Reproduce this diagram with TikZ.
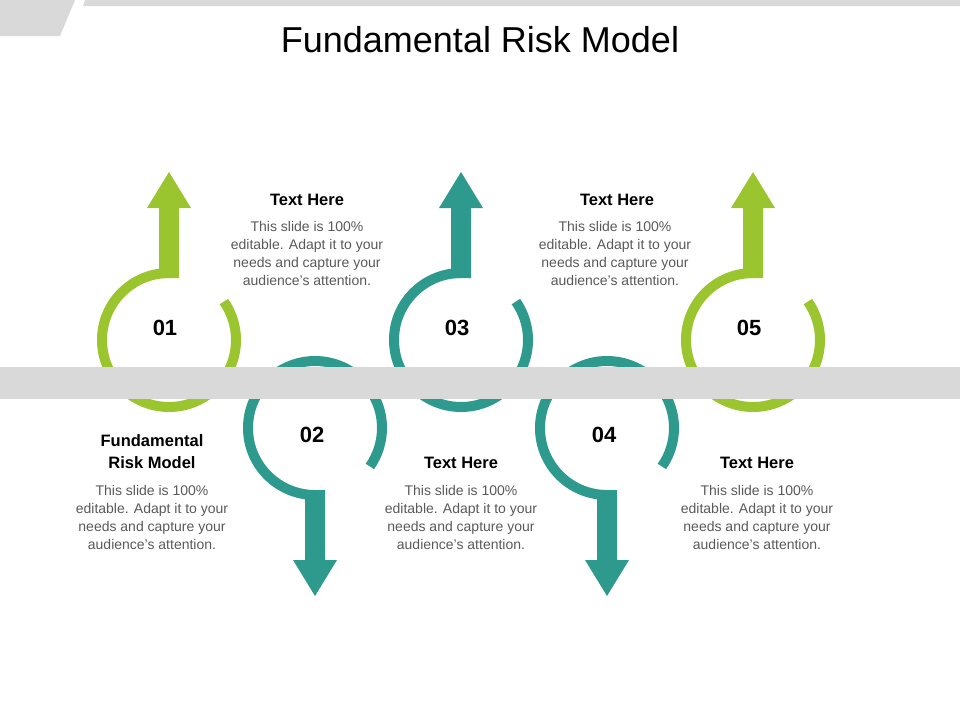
\documentclass[tikz,border=0pt]{standalone}
\usepackage{fontspec}
\setmainfont{Liberation Sans}
\definecolor{grn}{HTML}{9BC52E}
\definecolor{tl}{HTML}{2E9A8E}
\definecolor{band}{HTML}{D9D9D9}
\definecolor{txt}{HTML}{595959}
\begin{document}
\begin{tikzpicture}[x=1pt,y=-1pt,
  ring/.style={line width=10pt},
  num/.style={font=\bfseries\fontsize{22}{24}\selectfont},
  head/.style={font=\bfseries\fontsize{16.5}{18}\selectfont,align=center},
  body/.style={font=\fontsize{14}{18}\selectfont,text=txt,align=center}]
\useasboundingbox (0,0) rectangle (960,720);
\fill[band] (0,0) -- (75,0) -- (60,36) -- (0,36) -- cycle;
\fill[band] (85,0) -- (960,0) -- (960,6) -- (83,6) -- cycle;
\node[font=\fontsize{36}{40}\selectfont] (title) at (480,40) {Fundamental Risk Model};
% up rings
\foreach \cx/\c/\n in {169/grn/01,461/tl/03,753/grn/05}{
  \draw[ring,\c] (\cx,273) arc[start angle=-90,end angle=-395,radius=67];
  \fill[\c] (\cx-10,278) -- (\cx-10,208) -- (\cx-22,208) -- (\cx,172) -- (\cx+22,208) -- (\cx+10,208) -- (\cx+10,278) -- cycle;
  \node[num] (n\n) at (\cx-4,328) {\n};
}
\foreach \cx/\c/\n in {315/tl/02,607/tl/04}{
  \draw[ring,\c] (\cx,495) arc[start angle=90,end angle=395,radius=67];
  \fill[\c] (\cx-10,490) -- (\cx-10,560) -- (\cx-22,560) -- (\cx,596) -- (\cx+22,560) -- (\cx+10,560) -- (\cx+10,490) -- cycle;
  \node[num] (n\n) at (\cx-3,435) {\n};
}
\fill[band] (0,367) rectangle (960,399);
% texts
\node[head] (h1) at (307,200) {Text Here};
\node[body,anchor=north] (b1) at (307,218) {This slide is 100\%\\editable. Adapt it to your\\needs and capture your\\audience’s attention.};
\node[head] (h3) at (617,200) {Text Here};
\node[body,anchor=north] (b3) at (615,218) {This slide is 100\%\\editable. Adapt it to your\\needs and capture your\\audience’s attention.};
\node[head,font=\bfseries\fontsize{16.5}{22}\selectfont] (h0) at (152,452) {Fundamental\\Risk Model};
\node[body,anchor=north] (b0) at (152,482) {This slide is 100\%\\editable. Adapt it to your\\needs and capture your\\audience’s attention.};
\node[head] (h2) at (461,463) {Text Here};
\node[body,anchor=north] (b2) at (461,482) {This slide is 100\%\\editable. Adapt it to your\\needs and capture your\\audience’s attention.};
\node[head] (h4) at (757,463) {Text Here};
\node[body,anchor=north] (b4) at (757,482) {This slide is 100\%\\editable. Adapt it to your\\needs and capture your\\audience’s attention.};
\end{tikzpicture}
\end{document}
